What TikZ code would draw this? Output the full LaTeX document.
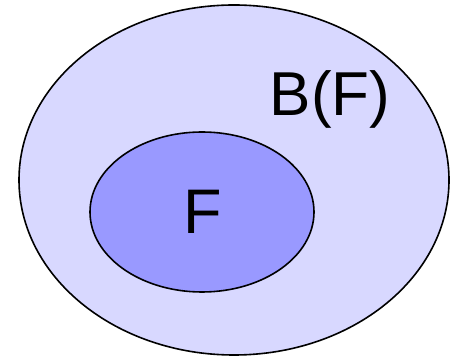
\documentclass[tikz,border=0pt]{standalone}
\usepackage{fontspec}
\setmainfont{Liberation Sans}
\begin{document}
\begin{tikzpicture}[
        x=1pt, y=1pt,
        set/.style={draw, line width=1.6pt},
        label/.style={inner sep=0pt, anchor=base}
    ]
        \definecolor{outerfill}{RGB}{216,216,255}
        \definecolor{innerfill}{RGB}{153,153,255}
        \useasboundingbox (0,0) rectangle (454,358);

        \draw[set, fill=outerfill] (234,178) ellipse [x radius=215, y radius=175];
        \draw[set, fill=innerfill] (202,146) ellipse [x radius=112, y radius=80];

        \node[label, font=\fontsize{62}{72}\selectfont] (bf) at (330,242) {B(F)};
        \node[label, font=\fontsize{63}{75}\selectfont] (f) at (203,124) {F};
    \end{tikzpicture}
\end{document}
